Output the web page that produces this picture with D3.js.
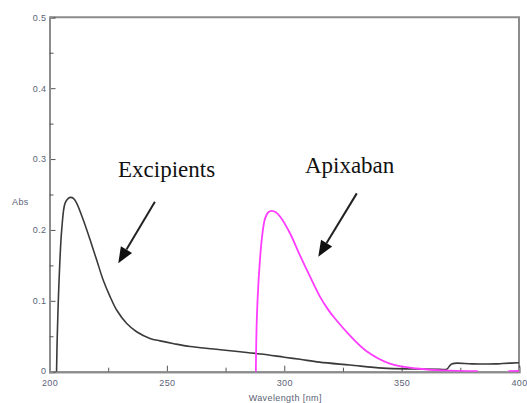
<!DOCTYPE html>
<html>
<head>
<meta charset="utf-8">
<script src="https://cdn.jsdelivr.net/npm/d3@7"></script>
<style>
  html, body { margin: 0; padding: 0; background: #fff; }
  svg { display: block; }
  .tick text { font-family: "Liberation Sans", Arial, sans-serif; font-size: 9px; letter-spacing: 0.4px; fill: #5b6376; }
</style>
</head>
<body>
<svg id="chart" width="527" height="403"></svg>
<script>
// UV absorbance spectra: excipient blank and apixaban
const excipientWavelength = [203.0, 203.3, 204.2, 205.2, 206.6, 208.0, 209.0, 210.2, 211.6, 214.4, 217.3, 220.1, 222.9, 225.8, 228.6, 232.9, 237.1, 242.8, 247.1, 253.0, 259.9, 270.0, 281.2, 290.0, 300.0, 306.7, 315.0, 328.0, 342.0, 355.0, 366.3, 369.2, 371.3, 380.0, 390.0, 393.0, 400.0];
const excipientAbs        = [0.000, 0.049, 0.139, 0.200, 0.2375, 0.2445, 0.246, 0.2445, 0.2375, 0.214, 0.186, 0.1575, 0.129, 0.106, 0.087, 0.068, 0.0564, 0.047, 0.0435, 0.0395, 0.0355, 0.032, 0.0282, 0.025, 0.0205, 0.0175, 0.0135, 0.0094, 0.0050, 0.0038, 0.0034, 0.0034, 0.0110, 0.0110, 0.0110, 0.0115, 0.0127];

const apixabanWavelength = [287.9, 288.3, 289.0, 290.4, 291.8, 293.2, 294.7, 296.4, 298.2, 302.5, 306.7, 311.0, 315.2, 318.4, 321.6, 328.0, 335.1, 345.0, 356.4, 370.6, 382.5, 383.0, 395.0, 395.5, 400.0];
const apixabanAbs        = [0.000, 0.073, 0.125, 0.186, 0.216, 0.225, 0.227, 0.225, 0.219, 0.195, 0.164, 0.134, 0.106, 0.089, 0.075, 0.051, 0.029, 0.0115, 0.0045, 0.0014, 0.0008, null, null, 0.0008, 0.0010];

const xMajorTicks = [200, 250, 300, 350, 400];
const xMinorTicks = [225, 275, 325, 375];
const yMajorTicks = [0, 0.1, 0.2, 0.3, 0.4, 0.5];
const yMinorTicks = [0.05, 0.15, 0.25, 0.35, 0.45];

const seriesNames = ["Excipients", "Apixaban"];
const seriesColors = ["#3a3a3a", "#ff3cff"];
// label anchor (wavelength, Abs) and arrow start/tip in data units
const labelPos = [[229.2, 0.2746], [308.8, 0.2798]];
const arrowFrom = [[244.9, 0.2398], [330.9, 0.2516]];
const arrowTo = [[229.3, 0.1529], [314.5, 0.1622]];

const svg = d3.select("#chart");
const margin = { left: 49.5, right: 8, top: 17.3, bottom: 31.3 };
const W = 527, H = 403;

const x = d3.scaleLinear().domain([200, 400]).range([margin.left, W - margin.right]);
const y = d3.scaleLinear().domain([0, 0.5]).range([H - margin.bottom, margin.top]);

const axisColor = "#8c8c8c";
const labelFont = "Liberation Sans, Arial, sans-serif";

// clip curves to plotting area
svg.append("defs").append("clipPath").attr("id", "plot-clip")
  .append("rect")
  .attr("x", x(200)).attr("y", y(0.5))
  .attr("width", x(400) - x(200)).attr("height", y(0) - y(0.5));

// frame (top and right)
svg.append("path")
  .attr("d", `M${x(200)},${y(0.5)}H${x(400)}V${y(0)}`)
  .attr("fill", "none").attr("stroke", axisColor).attr("stroke-width", 2);

// axes with inward ticks
const gx = svg.append("g").attr("transform", `translate(0,${y(0)})`)
  .call(d3.axisBottom(x).tickValues(xMajorTicks).tickSize(-6).tickPadding(8).tickFormat(d3.format("d")));
const gxMinor = svg.append("g").attr("transform", `translate(0,${y(0)})`)
  .call(d3.axisBottom(x).tickValues(xMinorTicks).tickSize(-4).tickFormat(""));
const gy = svg.append("g").attr("transform", `translate(${x(200)},0)`)
  .call(d3.axisLeft(y).tickValues(yMajorTicks).tickSize(-6).tickPadding(3).tickFormat(d => d === 0 ? "0" : d3.format(".1f")(d)));
const gyMinor = svg.append("g").attr("transform", `translate(${x(200)},0)`)
  .call(d3.axisLeft(y).tickValues(yMinorTicks).tickSize(-4).tickFormat(""));

[gx, gxMinor, gy, gyMinor].forEach(g => {
  g.select(".domain").attr("stroke", axisColor).attr("stroke-width", 2);
  g.selectAll(".tick line").attr("stroke", "#555").attr("stroke-width", 1);
});
// keep the corner "0" clear of the "200" beneath it
gy.selectAll(".tick text").filter(d => d === 0).attr("dy", "0.2em");

// axis titles
svg.append("text").attr("x", 12).attr("y", 205)
  .style("font-family", labelFont).style("font-size", "9px").style("letter-spacing", "0.4px")
  .attr("fill", "#5b6376").text("Abs");
svg.append("text").attr("x", (x(200) + x(400)) / 2 + 1).attr("y", 401)
  .attr("text-anchor", "middle")
  .style("font-family", labelFont).style("font-size", "9px").style("letter-spacing", "0.4px")
  .attr("fill", "#5b6376").text("Wavelength [nm]");

// spectra
const line = d3.line()
  .defined(d => d[1] != null)
  .x(d => x(d[0])).y(d => y(d[1]))
  .curve(d3.curveCatmullRom.alpha(0.5));

const series = [
  d3.zip(excipientWavelength, excipientAbs),
  d3.zip(apixabanWavelength, apixabanAbs)
];

const curves = svg.append("g").attr("clip-path", "url(#plot-clip)");
series.forEach((data, i) => {
  curves.append("path")
    .datum(data)
    .attr("fill", "none")
    .attr("stroke", seriesColors[i])
    .attr("stroke-width", i === 0 ? 1.6 : 1.8)
    .attr("stroke-linejoin", "round")
    .attr("d", line);
});

// annotation labels and arrows
seriesNames.forEach((name, i) => {
  svg.append("text")
    .attr("x", x(labelPos[i][0])).attr("y", y(labelPos[i][1]))
    .style("font-family", "Liberation Serif, 'Times New Roman', serif")
    .style("font-size", "23px")
    .attr("fill", "#111")
    .text(name);

  const x0 = x(arrowFrom[i][0]), y0 = y(arrowFrom[i][1]);
  const x1 = x(arrowTo[i][0]), y1 = y(arrowTo[i][1]);
  const ang = Math.atan2(y1 - y0, x1 - x0);
  const headLen = 16, headHalf = 6.5;
  const bx = x1 - headLen * Math.cos(ang), by = y1 - headLen * Math.sin(ang);
  svg.append("line")
    .attr("x1", x0).attr("y1", y0).attr("x2", bx).attr("y2", by)
    .attr("stroke", "#222").attr("stroke-width", 2);
  const px = -Math.sin(ang) * headHalf, py = Math.cos(ang) * headHalf;
  svg.append("path")
    .attr("d", `M${x1},${y1}L${bx + px},${by + py}L${bx - px},${by - py}Z`)
    .attr("fill", "#111");
});
</script>
</body>
</html>
